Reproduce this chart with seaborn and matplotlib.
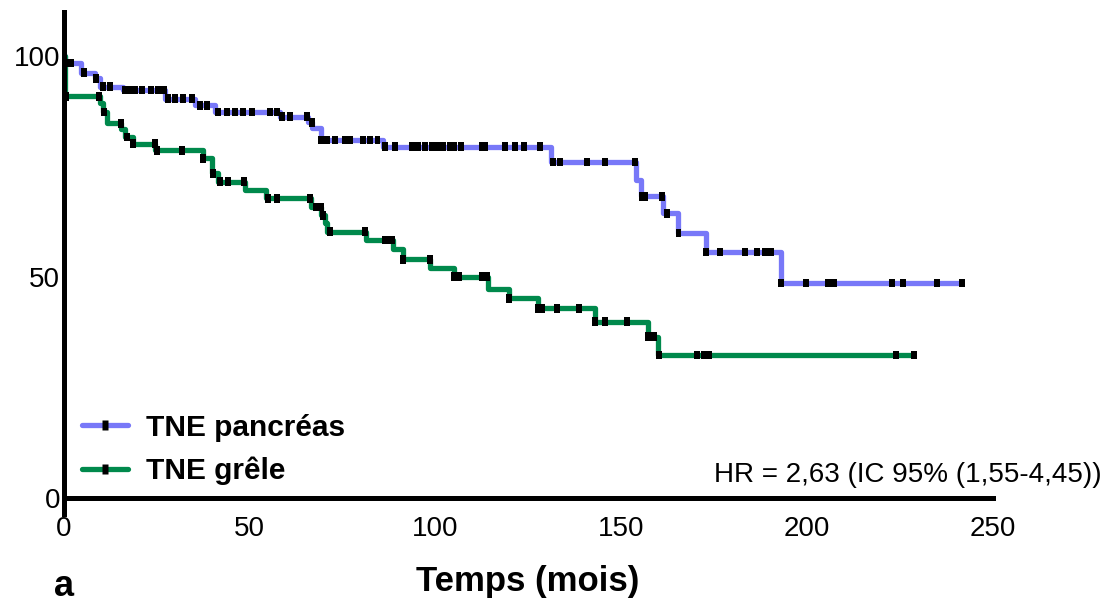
import numpy as np
import pandas as pd
import seaborn as sns
import matplotlib
matplotlib.use("Agg")
import matplotlib.pyplot as plt
from matplotlib.lines import Line2D

# Kaplan-Meier steps (time in months, survival in %)
panc_times = [0, 0.5, 4.7, 8.5, 9.8, 16.0, 27.3, 35.3, 40.7, 58.2, 65.8, 66.9, 69.4,
              85.9, 131.2, 154.1, 155.4, 161.2, 165.5, 173.0, 193.1, 241.8]
panc_surv = [100, 98.5, 96.3, 95.0, 93.1, 92.3, 90.4, 88.9, 87.4, 86.3, 85.0, 83.7, 81.0,
             79.5, 76.1, 71.9, 68.3, 64.4, 60.0, 55.7, 48.7, 48.7]
panc_censor = [1.0, 2.0, 5.5, 8.8, 10.5, 12.5, 16.5, 17.8, 19.2, 21.0, 23.5, 25.5, 27.0,
               28.0, 30.0, 32.2, 34.5, 36.7, 38.6, 41.5, 44.0, 46.2, 48.3, 50.7, 55.5,
               57.4, 58.8, 61.0, 65.6, 66.8, 69.4, 71.0, 73.0, 75.7, 77.0, 80.5, 82.4,
               84.5, 86.4, 89.1, 93.7, 95.3, 97.2, 99.1, 100.4, 102.0, 103.9, 105.2,
               107.1, 112.5, 113.3, 118.7, 121.4, 124.0, 128.1, 131.6, 133.5, 141.0,
               145.6, 153.8, 155.6, 156.5, 161.0, 162.5, 165.5, 173.0, 176.8, 183.4,
               186.5, 188.8, 190.4, 193.1, 199.8, 205.6, 207.4, 222.9, 225.9, 235.0, 241.8]

grele_times = [0, 0.5, 9.8, 10.7, 11.6, 15.6, 16.5, 18.8, 24.6, 37.6, 40.0, 41.5, 48.8,
               54.6, 66.7, 69.4, 70.3, 71.0, 81.5, 88.7, 91.3, 98.7, 105.0, 114.2, 119.8,
               127.6, 142.9, 157.2, 160.0, 228.9]
grele_surv = [100, 90.9, 89.3, 87.4, 84.8, 83.6, 81.7, 80.2, 78.7, 76.9, 73.5, 71.6, 69.7,
              67.8, 65.9, 64.0, 62.2, 60.3, 58.4, 56.3, 54.0, 52.0, 50.1, 47.4, 45.2,
              42.9, 39.9, 36.5, 32.4, 32.4]
grele_censor = [0.8, 9.5, 11.0, 15.5, 17.0, 18.8, 24.5, 25.2, 31.8, 37.6, 40.2, 42.0, 44.2,
                48.5, 55.0, 57.4, 66.3, 68.0, 69.2, 69.9, 71.6, 81.2, 86.4, 87.8, 88.5,
                91.3, 98.5, 105.0, 106.3, 112.5, 113.8, 114.0, 119.8, 127.6, 128.8,
                132.8, 138.7, 142.9, 145.6, 151.7, 157.2, 159.0, 160.3, 170.6, 172.4,
                173.8, 224.0, 228.9]

labels = ["TNE pancréas", "TNE grêle"]
colors = ["#7878F8", "#00894C"]
hr_text = "HR = 2,63 (IC 95% (1,55-4,45))"


def level_at(t, times, surv):
    # survival level of the step curve at time t (where the censor tick sits)
    idx = np.searchsorted(times, t, side="right") - 1
    return np.asarray(surv)[idx]


sns.set_theme(style="white")
plt.rcParams["font.family"] = ["Liberation Sans", "DejaVu Sans"]
plt.rcParams["text.color"] = "black"

fig = plt.figure(figsize=(11.1, 6.03), dpi=100)
ax = fig.add_axes([63.5 / 1110, 1 - 513.5 / 603, (992.5 - 63.5) / 1110, (513.5 - 12) / 603])

rect = [(-0.35, -0.5), (0.35, -0.5), (0.35, 0.5), (-0.35, 0.5)]
curves = [(panc_times, panc_surv, panc_censor), (grele_times, grele_surv, grele_censor)]
for (times, surv, cens), color in zip(curves, colors):
    df = pd.DataFrame({"t": times, "s": surv})
    sns.lineplot(data=df, x="t", y="s", ax=ax, color=color, lw=3.8,
                 drawstyle="steps-post", estimator=None, sort=False, clip_on=False,
                 solid_capstyle="butt")

for times, surv, cens in curves:
    cdf = pd.DataFrame({"t": cens, "s": [level_at(c, times, surv) for c in cens]})
    sns.scatterplot(data=cdf, x="t", y="s", ax=ax, marker=rect, s=38, color="black",
                    edgecolor="none", linewidth=0, clip_on=False, zorder=5)

ax.set_xlim(0, 250)
ax.set_ylim(-3.5, 110)
ax.set_xticks([0, 50, 100, 150, 200, 250])
ax.set_yticks([0, 50, 100])
ax.spines["top"].set_visible(False)
ax.spines["right"].set_visible(False)
ax.spines["bottom"].set_position(("data", 0))
for side in ["left", "bottom"]:
    ax.spines[side].set_linewidth(3.6)
    ax.spines[side].set_color("black")
ax.tick_params(axis="both", direction="out", length=7, width=3.6, color="black",
               labelsize=20, labelcolor="black")
ax.tick_params(axis="y", pad=-4.5)
ax.tick_params(axis="x", pad=6)
ax.set_xlabel("")
ax.set_ylabel("")
ax.grid(False)

handles = [Line2D([], [], color=c, lw=3.8, marker=rect, markersize=7,
                  markerfacecolor="black", markeredgecolor="none") for c in colors]
fig.legend(handles, labels, loc="center left", bbox_to_anchor=(82 / 1110, 1 - 449.5 / 603),
           bbox_transform=fig.transFigure, frameon=False, borderpad=0, borderaxespad=0,
           handlelength=1.55, handletextpad=0.6, labelspacing=0.5,
           prop={"size": 21.5, "weight": "bold"}, labelcolor="black")

fig.text(1102 / 1110, 1 - 482 / 603, hr_text, ha="right", va="baseline", fontsize=20,
         color="black")
fig.text(528 / 1110, 1 - 591 / 603, "Temps (mois)", ha="center", va="baseline",
         fontsize=25, fontweight="bold", color="black")
fig.text(54 / 1110, 1 - 596 / 603, "a", ha="left", va="baseline", fontsize=26,
         fontweight="bold", color="black")

fig.savefig("out.png", dpi=100)
